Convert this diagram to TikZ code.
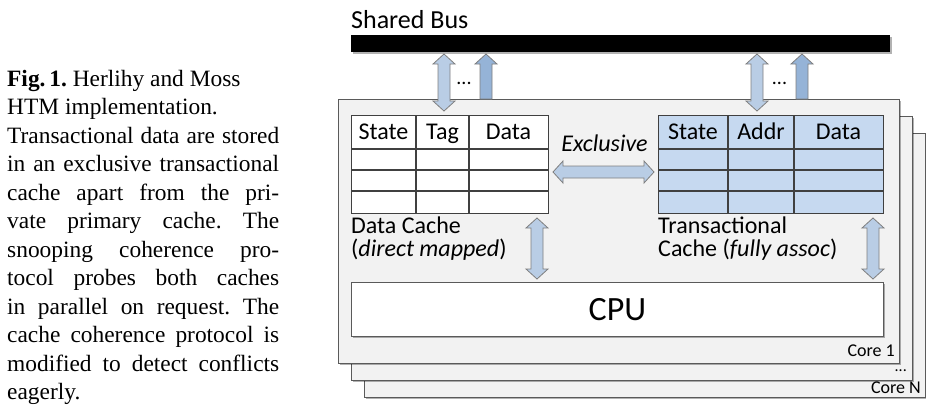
\documentclass[tikz,border=0pt]{standalone}
\usepackage{fontspec}
\setmainfont{Carlito}
\newfontfamily\capfont{Liberation Serif}
\usetikzlibrary{calc,shadows}

\definecolor{corefill}{HTML}{F2F2F2}
\definecolor{coreline}{HTML}{5A5A5A}
\definecolor{gridline}{HTML}{404040}
\definecolor{arrowlight}{HTML}{B9CDE5}
\definecolor{arrowdark}{HTML}{95B3D7}
\definecolor{arrowline}{HTML}{7F7F7F}
\definecolor{tcfill}{HTML}{C6D9F0}

\newcommand\setfs[1]{\fontsize{#1}{#1}\selectfont}

% fat arrow geometry: head length, head half width, shaft half width
\def\arrhl{10pt}
\def\arrhw{11pt}
\def\arrsw{6pt}

% double-headed block arrow between two named coordinates
\newcommand\dblarrow[3]{%
  \draw[fatarrow, fill=#1] (#2)
    -- ($(#2)!\arrhl!(#3)!\arrhw!90:(#3)$)
    -- ($(#2)!\arrhl!(#3)!\arrsw!90:(#3)$)
    -- ($(#3)!\arrhl!(#2)!\arrsw!-90:(#2)$)
    -- ($(#3)!\arrhl!(#2)!\arrhw!-90:(#2)$)
    -- (#3)
    -- ($(#3)!\arrhl!(#2)!\arrhw!90:(#2)$)
    -- ($(#3)!\arrhl!(#2)!\arrsw!90:(#2)$)
    -- ($(#2)!\arrhl!(#3)!\arrsw!-90:(#3)$)
    -- ($(#2)!\arrhl!(#3)!\arrhw!-90:(#3)$)
    -- cycle;}

% single-headed block arrow from a tail coordinate to a head coordinate
\newcommand\sglarrow[3]{%
  \draw[fatarrow, fill=#1] ($(#2)!\arrsw!90:(#3)$)
    -- ($(#3)!\arrhl!(#2)!\arrsw!-90:(#2)$)
    -- ($(#3)!\arrhl!(#2)!\arrhw!-90:(#2)$)
    -- (#3)
    -- ($(#3)!\arrhl!(#2)!\arrhw!90:(#2)$)
    -- ($(#3)!\arrhl!(#2)!\arrsw!90:(#2)$)
    -- ($(#2)!\arrsw!-90:(#3)$)
    -- cycle;}

\begin{document}
\begin{tikzpicture}[x=1pt,y=-1pt,
  softshadow/.style={drop shadow={shadow xshift=1.6pt, shadow yshift=-1.6pt, opacity=0.3, fill=black}},
  corebox/.style={draw=coreline, fill=corefill, line width=0.9pt, inner sep=0pt,
    anchor=north west, minimum width=561pt, minimum height=264pt, softshadow},
  tablebox/.style={draw=gridline, line width=1.1pt, inner sep=0pt, anchor=north west,
    minimum height=98pt},
  gridrule/.style={draw=gridline, line width=1.1pt},
  hdr/.style={anchor=base, inner sep=0pt, font=\setfs{24}},
  lbl/.style={anchor=base west, inner sep=0pt, font=\setfs{24}},
  corelbl/.style={anchor=base east, inner sep=0pt, font=\setfs{18}},
  dots/.style={anchor=base, inner sep=0pt, font=\setfs{20}},
  fatarrow/.style={draw=arrowline, line width=0.8pt, line join=miter}]
\useasboundingbox (0,0) rectangle (926,408);

% caption
\node[anchor=north west, inner sep=0pt, text width=272pt, align=justify,
  font=\capfont\fontsize{23.4}{28.5}\selectfont\frenchspacing] (caption) at (7,70)
  {\textbf{Fig.\,1.} Herlihy and Moss\newline
   HTM implementation.\newline
   Transactional data are stored\linebreak
   in an exclusive transactional\linebreak
   cache apart from the pri-\linebreak
   vate primary cache. The\linebreak
   snooping coherence pro-\linebreak
   tocol probes both caches\linebreak
   in parallel on request. The\linebreak
   cache coherence protocol is\linebreak
   modified to detect conflicts\linebreak
   eagerly.};

% shared bus
\node[anchor=base west, inner sep=0pt, font=\setfs{26}] (buslabel) at (351,28) {Shared Bus};
\node[fill=black, anchor=north west, inner sep=0pt, minimum width=539pt,
  minimum height=17pt, softshadow] (bus) at (351,35) {};

% stacked cores, back to front
\node[corebox] (coreN) at (364,132.5) {};
\node[corebox] (coremid) at (351,115.5) {};
\node[corebox] (core1) at (338,99) {};
\node[corelbl] (lblN) at (921,393) {Core N};
\node[corelbl, font=\setfs{16}] (lblmid) at (907,371) {...};
\node[corelbl] (lbl1) at (895,356) {Core 1};

% data cache table
\node[tablebox, fill=white, minimum width=197pt] (dc) at (351,115) {};
% transactional cache table
\node[tablebox, fill=tcfill, minimum width=225pt] (tc) at (658,115) {};
\foreach \t in {dc,tc}
  \foreach \yy in {34,55,76}
    \draw[gridrule] ($(\t.north west)+(0,\yy)$) -- ($(\t.north east)+(0,\yy)$);
\foreach \t/\xx in {dc/65, dc/118, tc/70, tc/136}
  \draw[gridrule] ($(\t.north west)+(\xx,0)$) -- ($(\t.south west)+(\xx,0)$);

\node[hdr] (dcstate) at (383.5,139) {State};
\node[hdr] (dctag) at (442.5,139) {Tag};
\node[hdr] (dcdata) at (508.5,139) {Data};
\node[hdr] (tcstate) at (693,139) {State};
\node[hdr] (tcaddr) at (761,139) {Addr};
\node[hdr] (tcdata) at (838.5,139) {Data};

\node[lbl] (dcname) at (351,233.5) {Data Cache};
\node[lbl] (dckind) at (351,256) {(\textit{direct mapped})};
\node[lbl] (tcname) at (658,233.5) {Transactional};
\node[lbl] (tckind) at (658,256) {Cache (\textit{fully assoc})};
\node[hdr] (exlabel) at (604.5,151) {\textit{Exclusive}};

% processor
\node[draw=coreline, fill=white, line width=0.9pt, inner sep=0pt, anchor=north west,
  minimum width=532pt, minimum height=54pt, softshadow, font=\setfs{34}] (cpu) at (351,282) {CPU};

% arrow end points
\coordinate (dnA-top) at (444,54);
\coordinate (dnA-bot) at (444,111);
\coordinate (upA-tail) at (486,99);
\coordinate (upA-head) at (486,54);
\coordinate (dnB-top) at (757,54);
\coordinate (dnB-bot) at (757,111);
\coordinate (upB-tail) at (802,99);
\coordinate (upB-head) at (802,54);
\coordinate (ex-l) at (553,172);
\coordinate (ex-r) at (654,172);
\coordinate (dcpu-top) at (537,218);
\coordinate (dcpu-bot) at (537,279);
\coordinate (tcpu-top) at (873,218);
\coordinate (tcpu-bot) at (873,279);

% bus links
\dblarrow{arrowlight}{dnA-top}{dnA-bot}
\sglarrow{arrowdark}{upA-tail}{upA-head}
\dblarrow{arrowlight}{dnB-top}{dnB-bot}
\sglarrow{arrowdark}{upB-tail}{upB-head}
\node[dots] (dotsA) at (464,84) {...};
\node[dots] (dotsB) at (779.5,84) {...};

% exclusive link and cache-to-CPU links
\dblarrow{arrowlight}{ex-l}{ex-r}
\dblarrow{arrowlight}{dcpu-top}{dcpu-bot}
\dblarrow{arrowlight}{tcpu-top}{tcpu-bot}
\end{tikzpicture}
\end{document}
